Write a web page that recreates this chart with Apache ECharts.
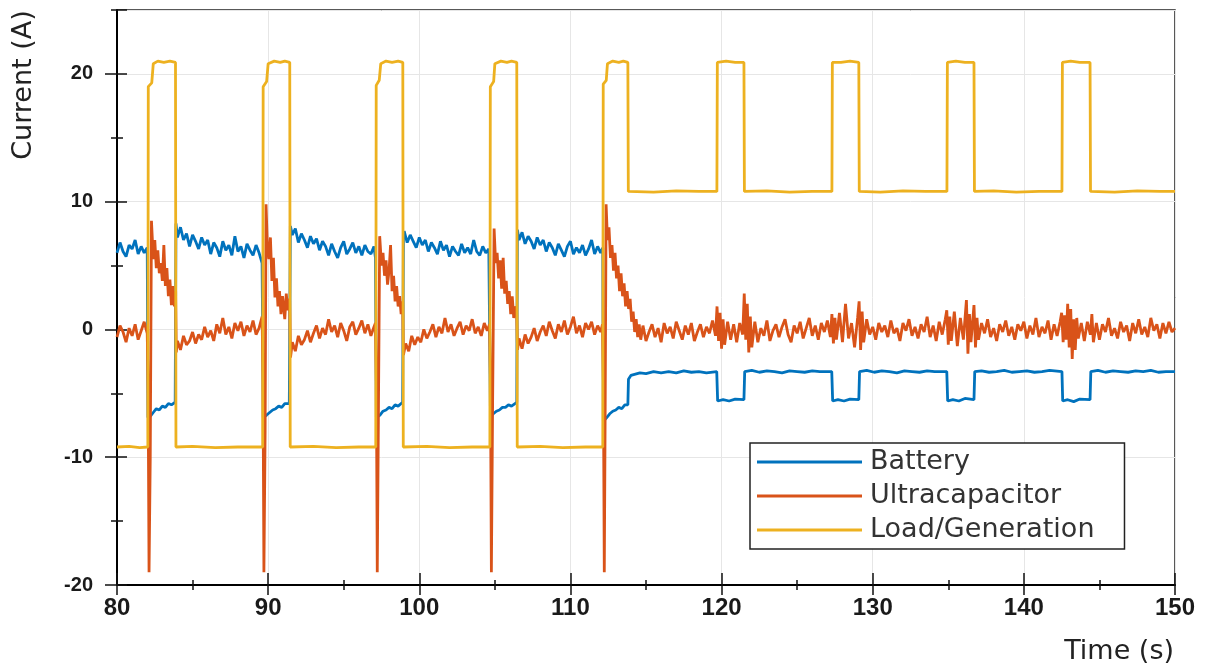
<!DOCTYPE html>
<html>
<head>
<meta charset="utf-8">
<script src="https://cdn.jsdelivr.net/npm/echarts@6/dist/echarts.min.js"></script>
<style>
html, body { margin: 0; background: #fff; }
#chart { width: 1209px; height: 671px; }
</style>
</head>
<body>
<div id="chart"></div>
<script>
const seriesNames = ['Battery', 'Ultracapacitor', 'Load/Generation'];
const seriesColors = ['#0072BD', '#D95319', '#EDB120'];

// [time (s), current (A)]
const battery = [
  [80.0,6.0],[80.2,6.8],[80.4,6.1],[80.6,5.7],[80.8,6.6],[81.0,6.3],[81.2,7.0],[81.4,5.9],[81.6,6.5],[81.8,6.0],[82.0,6.4],
  [82.05,-6.9],[82.2,-6.8],[82.4,-6.5],[82.6,-6.2],[82.8,-6.3],[83.0,-6.0],[83.2,-6.1],[83.4,-5.8],[83.6,-5.9],[83.85,-5.7],
  [83.9,8.3],[84.0,7.2],[84.2,8.0],[84.4,7.0],[84.6,7.5],[84.8,6.5],[85.0,7.4],[85.2,6.9],[85.4,6.3],[85.6,7.2],[85.8,6.6],
  [86.0,7.0],[86.2,5.9],[86.4,6.8],[86.6,6.4],[86.8,5.7],[87.0,6.9],[87.2,6.2],[87.4,6.6],[87.6,5.8],[87.8,7.3],[88.0,6.1],
  [88.2,6.5],[88.4,5.6],[88.6,6.7],[88.8,6.2],[89.0,5.8],[89.2,6.6],[89.4,6.0],[89.6,5.2],
  [89.68,-6.9],[89.9,-6.7],[90.1,-6.5],[90.3,-6.3],[90.5,-6.2],[90.7,-6.0],[90.9,-6.1],[91.1,-5.8],[91.4,-5.8],
  [91.47,8.1],[91.6,7.4],[91.8,7.9],[92.0,6.8],[92.2,7.5],[92.4,7.0],[92.6,6.4],[92.8,7.3],[93.0,6.7],[93.2,7.1],[93.4,6.2],
  [93.6,6.9],[93.8,6.5],[94.0,5.8],[94.2,6.7],[94.4,6.1],[94.6,5.6],[94.8,6.4],[95.0,6.9],[95.2,5.9],[95.4,6.3],[95.6,6.8],
  [95.8,6.0],[96.0,6.5],[96.2,5.8],[96.4,6.6],[96.6,6.1],[96.8,5.9],[97.0,6.5],[97.1,5.6],
  [97.16,-6.9],[97.4,-6.7],[97.6,-6.4],[97.8,-6.3],[98.0,-6.1],[98.2,-6.2],[98.4,-5.9],[98.6,-6.0],[98.9,-5.7],
  [98.95,7.1],[99.0,7.7],[99.2,6.8],[99.4,7.4],[99.6,6.9],[99.8,6.4],[100.0,7.2],[100.2,6.6],[100.4,7.0],[100.6,6.1],[100.8,6.8],
  [101.0,6.4],[101.2,5.9],[101.4,6.9],[101.6,6.2],[101.8,6.6],[102.0,5.7],[102.2,6.5],[102.4,6.1],[102.6,5.8],[102.8,6.7],
  [103.0,6.0],[103.2,6.4],[103.4,5.9],[103.6,7.0],[103.8,6.1],[104.0,5.8],[104.2,6.5],[104.4,6.0],[104.6,6.3],
  [104.71,-6.8],[104.9,-6.6],[105.1,-6.4],[105.3,-6.3],[105.5,-6.1],[105.7,-6.1],[105.9,-5.9],[106.1,-6.0],[106.45,-5.7],
  [106.49,7.8],[106.6,7.0],[106.8,7.6],[107.0,6.7],[107.2,7.3],[107.4,6.9],[107.6,6.3],[107.8,7.2],[108.0,6.6],[108.2,7.0],
  [108.4,6.1],[108.6,6.8],[108.8,6.4],[109.0,5.8],[109.2,6.7],[109.4,6.2],[109.6,5.7],[109.8,6.5],[110.0,6.9],[110.2,5.9],
  [110.4,6.4],[110.6,6.0],[110.8,6.6],[111.0,5.8],[111.2,6.3],[111.4,7.0],[111.6,5.9],[111.8,6.5],[112.0,6.0],[112.14,6.4],
  [112.18,-7.2],[112.4,-6.9],[112.6,-6.6],[112.8,-6.4],[113.0,-6.3],[113.2,-6.1],[113.4,-6.2],[113.6,-5.9],[113.8,-5.9],
  [113.84,-3.9],[114.0,-3.6],[114.3,-3.5],[114.6,-3.4],[115.0,-3.45],[115.5,-3.3],[116.0,-3.4],[116.5,-3.3],[117.0,-3.4],
  [117.5,-3.25],[118.0,-3.35],[118.5,-3.3],[119.0,-3.4],[119.68,-3.3],
  [119.74,-5.6],[120.1,-5.5],[120.5,-5.6],[120.9,-5.45],[121.48,-5.5],
  [121.53,-3.3],[122.0,-3.2],[122.5,-3.35],[123.0,-3.25],[123.5,-3.3],[124.0,-3.4],[124.5,-3.25],[125.0,-3.3],[125.5,-3.35],
  [126.0,-3.25],[126.5,-3.3],[127.29,-3.3],
  [127.35,-5.6],[127.7,-5.5],[128.1,-5.6],[128.5,-5.45],[129.08,-5.5],
  [129.13,-3.3],[129.6,-3.2],[130.1,-3.35],[130.6,-3.25],[131.1,-3.3],[131.6,-3.4],[132.1,-3.25],[132.6,-3.3],[133.1,-3.35],
  [133.6,-3.25],[134.1,-3.3],[134.9,-3.3],
  [134.96,-5.6],[135.3,-5.5],[135.7,-5.6],[136.1,-5.4],[136.7,-5.5],
  [136.75,-3.3],[137.2,-3.25],[137.7,-3.35],[138.2,-3.3],[138.7,-3.2],[139.2,-3.35],[139.7,-3.3],[140.2,-3.25],[140.7,-3.35],
  [141.2,-3.3],[141.7,-3.2],[142.52,-3.3],
  [142.57,-5.6],[142.9,-5.5],[143.3,-5.65],[143.7,-5.45],[144.38,-5.5],
  [144.43,-3.3],[144.9,-3.2],[145.4,-3.35],[145.9,-3.25],[146.4,-3.3],[146.9,-3.35],[147.4,-3.25],[147.9,-3.3],[148.4,-3.2],
  [148.9,-3.35],[149.4,-3.3],[150.0,-3.3]
];

const ultracap = [
  [80.0,-0.6],[80.2,0.3],[80.4,-0.2],[80.6,-1.0],[80.8,0.1],[81.0,-0.5],[81.2,0.4],[81.4,-0.8],[81.6,-0.1],[81.8,0.6],[82.0,-0.3],
  [82.06,-5.0],[82.12,-19.0],[82.2,-10.0],[82.28,8.5],[82.4,5.5],[82.5,7.0],[82.6,4.8],[82.7,6.2],[82.8,4.4],[82.9,5.2],
  [83.0,3.8],[83.1,6.6],[83.2,3.4],[83.3,4.8],[83.4,2.6],[83.5,3.9],[83.6,1.9],[83.7,3.4],[83.8,1.8],[83.88,3.0],
  [83.92,-1.8],[84.0,-0.9],[84.2,-1.6],[84.4,-0.5],[84.6,-1.2],[84.8,-0.9],[85.0,-0.2],[85.2,-1.1],[85.4,-0.4],[85.6,-0.8],
  [85.8,0.2],[86.0,-0.6],[86.2,-0.1],[86.4,-0.9],[86.6,0.4],[86.8,-0.3],[87.0,0.9],[87.2,-0.4],[87.4,0.2],[87.6,-0.7],
  [87.8,0.5],[88.0,-0.1],[88.2,0.6],[88.4,-0.5],[88.6,0.3],[88.8,-0.2],[89.0,0.7],[89.2,-0.4],[89.4,0.1],[89.6,1.0],
  [89.66,-4.0],[89.72,-19.0],[89.8,-8.0],[89.86,9.8],[89.95,6.5],[90.05,5.5],[90.15,7.2],[90.25,3.8],[90.35,5.6],[90.45,2.5],
  [90.55,4.0],[90.65,1.8],[90.75,3.0],[90.85,1.2],[90.95,2.6],[91.1,0.8],[91.2,2.8],[91.3,1.5],[91.42,2.4],
  [91.48,-2.2],[91.6,-1.0],[91.8,-1.7],[92.0,-0.5],[92.2,-1.2],[92.4,-0.8],[92.6,-0.1],[92.8,-1.0],[93.0,-0.3],[93.2,0.3],
  [93.4,-0.7],[93.6,0.1],[93.8,-0.4],[94.0,0.8],[94.2,-0.2],[94.4,0.3],[94.6,-0.6],[94.8,0.5],[95.0,-0.1],[95.2,-0.9],
  [95.4,0.2],[95.6,0.6],[95.8,-0.4],[96.0,0.1],[96.2,0.7],[96.4,-0.3],[96.6,0.4],[96.8,-0.5],[97.0,0.2],[97.1,0.5],
  [97.16,-4.0],[97.22,-19.0],[97.3,-6.0],[97.38,7.3],[97.5,5.0],[97.6,6.0],[97.7,4.2],[97.8,5.4],[97.9,3.5],[98.0,4.6],
  [98.1,6.6],[98.2,3.0],[98.3,4.2],[98.4,2.2],[98.5,3.4],[98.6,1.8],[98.7,2.6],[98.8,1.2],[98.9,2.2],
  [98.95,-2.0],[99.1,-1.1],[99.3,-1.7],[99.5,-0.5],[99.7,-1.2],[99.9,-0.6],[100.1,-1.0],[100.3,0.0],[100.5,-0.7],[100.7,-0.2],
  [100.9,0.4],[101.1,-0.6],[101.3,0.2],[101.5,-0.3],[101.7,0.9],[101.9,-0.2],[102.1,0.4],[102.3,-0.5],[102.5,0.1],[102.7,0.6],
  [102.9,-0.4],[103.1,0.3],[103.3,-0.1],[103.5,0.8],[103.7,-0.3],[103.9,0.2],[104.1,-0.5],[104.3,0.5],[104.5,-0.1],[104.65,0.4],
  [104.71,-4.0],[104.77,-19.0],[104.85,-6.0],[104.95,7.9],[105.05,5.2],[105.15,6.0],[105.25,4.0],[105.35,5.4],[105.45,3.2],
  [105.55,5.6],[105.65,2.8],[105.75,3.8],[105.85,2.0],[105.95,3.0],[106.05,1.2],[106.15,2.6],[106.25,0.9],[106.35,1.8],[106.44,1.4],
  [106.5,-1.6],[106.6,-0.7],[106.8,-1.5],[107.0,-0.4],[107.2,-1.1],[107.4,-0.6],[107.6,0.1],[107.8,-0.9],[108.0,-0.2],[108.2,0.3],
  [108.4,-0.5],[108.6,0.6],[108.8,-0.1],[109.0,-0.7],[109.2,0.4],[109.4,-0.2],[109.6,0.7],[109.8,-0.4],[110.0,0.2],[110.2,1.0],
  [110.4,-0.3],[110.6,0.3],[110.8,-0.6],[111.0,0.5],[111.2,0.0],[111.4,0.6],[111.6,-0.4],[111.8,0.3],[112.0,-0.2],[112.12,0.4],
  [112.18,-4.0],[112.24,-19.0],[112.3,-6.0],[112.36,9.8],[112.45,7.0],[112.55,8.0],[112.65,5.6],[112.75,6.6],[112.85,4.6],
  [112.95,6.0],[113.05,4.0],[113.15,5.0],[113.25,3.0],[113.35,4.4],[113.45,2.6],[113.55,3.6],[113.65,1.8],[113.75,3.0],
  [113.85,1.6],[113.95,2.4],[114.05,0.6],[114.15,1.4],[114.25,-0.2],[114.35,0.8],[114.45,-0.6],[114.55,0.4],[114.65,-0.8],
  [114.8,0.3],[115.0,-0.9],[115.2,-0.2],[115.4,0.4],[115.6,-0.6],[115.8,0.1],[116.0,-1.0],[116.2,0.5],[116.4,-0.3],[116.6,0.2],
  [116.8,-0.7],[117.0,0.6],[117.2,-0.1],[117.4,-0.8],[117.6,0.3],[117.8,-0.4],[118.0,0.5],[118.2,-0.9],[118.4,-0.2],[118.6,0.4],
  [118.8,-0.6],[119.0,0.2],[119.2,-0.3],[119.4,0.7],[119.6,-0.5],
  [119.7,1.8],[119.8,-0.9],[119.9,1.3],[120.0,-1.5],[120.1,0.8],[120.2,-1.2],[120.4,0.6],[120.6,-0.8],[120.8,0.4],[121.0,-1.0],
  [121.2,0.5],[121.4,-0.4],[121.5,2.8],[121.6,-0.8],[121.7,2.0],[121.8,-1.8],[121.9,1.0],[122.0,-1.4],[122.2,0.6],[122.4,-1.0],
  [122.6,0.1],[122.8,-0.5],[123.0,0.7],[123.2,-0.9],[123.4,-0.1],[123.6,0.4],[123.8,-0.6],[124.0,0.2],[124.2,0.8],[124.4,-0.4],
  [124.6,-1.0],[124.8,0.3],[125.0,-0.3],[125.2,0.6],[125.4,-0.7],[125.6,0.1],[125.8,0.9],[126.0,-0.5],[126.2,0.3],[126.4,-0.8],
  [126.6,0.5],[126.8,-0.2],[127.0,0.7],[127.2,-0.6],[127.3,1.2],[127.4,-1.1],[127.5,0.9],[127.6,-0.8],[127.8,1.3],[128.0,-1.0],
  [128.2,2.0],[128.4,-0.7],[128.6,0.5],[128.8,-1.4],[129.0,0.9],[129.1,2.2],[129.2,-1.6],[129.3,1.4],[129.4,-1.0],[129.6,0.8],
  [129.8,-0.4],[130.0,0.2],[130.2,-0.8],[130.4,0.5],[130.6,-0.2],[130.8,0.3],[131.0,-0.6],[131.2,0.7],[131.4,-0.3],[131.6,0.1],
  [131.8,-0.9],[132.0,0.5],[132.2,-0.1],[132.4,0.8],[132.6,-0.5],[132.8,0.2],[133.0,-0.7],[133.2,0.4],[133.4,-0.2],[133.6,1.0],
  [133.8,-0.6],[134.0,0.3],[134.2,-0.9],[134.4,0.6],[134.6,-0.4],[134.8,0.8],[134.9,1.5],[135.0,-1.2],[135.1,1.0],[135.2,-0.9],
  [135.4,1.4],[135.6,-1.3],[135.8,0.9],[136.0,-0.8],[136.2,2.3],[136.3,-1.9],[136.4,1.2],[136.5,-1.0],[136.7,1.9],[136.8,-1.4],
  [136.9,0.9],[137.0,-0.8],[137.2,0.5],[137.4,-0.3],[137.6,0.8],[137.8,-0.6],[138.0,0.1],[138.2,-0.9],[138.4,0.4],[138.6,-0.2],
  [138.8,0.7],[139.0,-0.5],[139.2,0.2],[139.4,-0.8],[139.6,0.4],[139.8,-0.1],[140.0,0.6],[140.2,-0.7],[140.4,0.3],[140.6,-0.4],
  [140.8,0.9],[141.0,-0.6],[141.2,0.2],[141.4,-0.3],[141.6,0.7],[141.8,-0.8],[142.0,0.4],[142.2,-0.5],[142.4,0.6],[142.5,1.3],
  [142.6,-1.0],[142.7,1.1],[142.8,-0.8],[142.9,2.0],[143.0,-1.4],[143.1,1.6],[143.2,-2.3],[143.3,0.8],[143.4,-1.6],[143.5,0.9],
  [143.6,-0.7],[143.8,0.5],[144.0,-0.9],[144.2,0.6],[144.4,-0.4],[144.5,1.2],[144.6,-1.0],[144.8,0.5],[145.0,-0.8],[145.2,0.4],
  [145.4,-0.2],[145.6,0.9],[145.8,-0.5],[146.0,0.1],[146.2,-0.7],[146.4,0.6],[146.6,-0.2],[146.8,0.3],[147.0,-0.9],[147.2,0.5],
  [147.4,-0.3],[147.6,0.8],[147.8,-0.4],[148.0,0.2],[148.2,-0.6],[148.4,0.9],[148.6,-0.1],[148.8,0.4],[149.0,-0.7],[149.2,0.5],
  [149.4,-0.3],[149.6,0.6],[149.8,-0.2],[150.0,0.1]
];

const load = [
  [80,-9.2],[80.8,-9.15],[81.5,-9.25],[82.04,-9.2],[82.07,19.0],[82.3,19.3],[82.4,20.8],[82.7,21.0],[83.1,20.9],[83.5,21.0],[83.87,20.9],
  [83.9,-9.2],[85,-9.15],[86.5,-9.25],[88,-9.2],[89.64,-9.2],
  [89.67,19.0],[89.9,19.4],[90.0,20.8],[90.4,21.0],[90.8,20.9],[91.1,21.0],[91.43,20.9],
  [91.46,-9.2],[93,-9.15],[94.5,-9.25],[96,-9.2],[97.12,-9.2],
  [97.15,19.1],[97.35,19.5],[97.45,20.8],[97.8,21.0],[98.2,20.9],[98.6,21.0],[98.91,20.9],
  [98.94,-9.2],[100.5,-9.15],[102,-9.25],[103.5,-9.2],[104.67,-9.2],
  [104.7,19.0],[104.92,19.4],[105.0,20.8],[105.4,21.0],[105.8,20.9],[106.1,21.0],[106.45,20.9],
  [106.48,-9.2],[108,-9.15],[109.5,-9.25],[111,-9.2],[112.14,-9.2],
  [112.17,19.2],[112.37,19.5],[112.45,20.8],[112.8,21.0],[113.2,20.9],[113.5,21.0],[113.8,20.9],
  [113.83,10.8],[115.5,10.75],[117,10.85],[118.5,10.8],[119.69,10.8],
  [119.72,20.9],[120.3,21.0],[120.9,20.9],[121.48,20.9],
  [121.51,10.8],[123,10.85],[124.5,10.75],[126,10.8],[127.3,10.8],
  [127.33,20.9],[127.9,20.9],[128.5,21.0],[129.08,20.9],
  [129.11,10.8],[130.5,10.75],[132,10.85],[133.5,10.8],[134.91,10.8],
  [134.94,20.9],[135.5,21.0],[136.1,20.9],[136.7,20.9],
  [136.73,10.8],[138,10.85],[139.5,10.75],[141,10.8],[142.52,10.8],
  [142.55,20.9],[143.1,21.0],[143.7,20.9],[144.38,20.9],
  [144.41,10.8],[146,10.75],[147.5,10.85],[149,10.8],[150,10.8]
];

const chart = echarts.init(document.getElementById('chart'));

const tickColor = '#111';
const labelFont = { color: '#1a1a1a', fontWeight: 'bold', fontFamily: 'Liberation Sans, Arial, sans-serif' };

// MATLAB style ticks cross the axis: one axis for the outer half, one for the inner half
function xAxisPart(interval, inside, len, main) {
  return {
    type: 'value', position: 'bottom', min: 80, max: 150, interval: interval,
    axisLine: { show: main, onZero: false, lineStyle: { color: '#000', width: 2 } },
    axisTick: { show: true, inside: inside, length: len, lineStyle: { color: tickColor, width: 1.5 } },
    axisLabel: main ? Object.assign({ show: true, margin: 11, fontSize: 24 }, labelFont) : { show: false },
    splitLine: { show: main, lineStyle: { color: '#e6e6e6', width: 1 } }
  };
}
function yAxisPart(interval, inside, len, main) {
  return {
    type: 'value', position: 'left', min: -20, max: 25, interval: interval,
    axisLine: { show: main, onZero: false, lineStyle: { color: '#000', width: 2 } },
    axisTick: { show: true, inside: inside, length: len, lineStyle: { color: tickColor, width: 1.5 } },
    axisLabel: main ? Object.assign({ show: true, margin: 24, fontSize: 20, showMaxLabel: false }, labelFont) : { show: false },
    splitLine: { show: main, lineStyle: { color: '#e6e6e6', width: 1 } }
  };
}

function lineSeries(i, data) {
  return {
    name: seriesNames[i], type: 'line', data: data,
    xAxisIndex: 0, yAxisIndex: 0,
    showSymbol: false, symbol: 'none', sampling: null,
    lineStyle: { color: seriesColors[i], width: 2.8 },
    itemStyle: { color: seriesColors[i] },
    z: 2 + i
  };
}

chart.setOption({
  animation: false,
  backgroundColor: '#fff',
  grid: { left: 117, right: 34, top: 10, bottom: 86, show: true, borderColor: '#222', borderWidth: 1.5 },
  xAxis: [
    xAxisPart(10, false, 10, true),
    xAxisPart(10, true, 12, false),
    xAxisPart(5, false, 5, false),
    xAxisPart(5, true, 5, false)
  ],
  yAxis: [
    yAxisPart(10, false, 12, true),
    yAxisPart(10, true, 10, false),
    yAxisPart(5, false, 6, false),
    yAxisPart(5, true, 6, false)
  ],
  legend: {
    data: seriesNames,
    orient: 'vertical',
    left: 750, top: 443,
    padding: [4, 30, 4, 7],
    itemGap: 4,
    itemWidth: 105, itemHeight: 3,
    icon: 'rect',
    backgroundColor: '#fff',
    borderColor: '#222', borderWidth: 1.5, borderRadius: 0,
    textStyle: { fontSize: 27, lineHeight: 30, color: '#333', fontFamily: 'DejaVu Sans', padding: [0, 0, 0, 3] }
  },
  graphic: [
    {
      type: 'text', x: 24, y: 85, rotation: Math.PI / 2,
      style: { text: 'Current (A)', fontSize: 27, fontFamily: 'DejaVu Sans', fill: '#222', align: 'center', verticalAlign: 'middle' }
    },
    {
      type: 'text', x: 1174, y: 652,
      style: { text: 'Time (s)', fontSize: 27, fontFamily: 'DejaVu Sans', fill: '#222', align: 'right', verticalAlign: 'middle' }
    }
  ],
  series: [
    lineSeries(0, battery),
    lineSeries(1, ultracap),
    lineSeries(2, load)
  ]
});

window.addEventListener('resize', () => chart.resize());
</script>
</body>
</html>
